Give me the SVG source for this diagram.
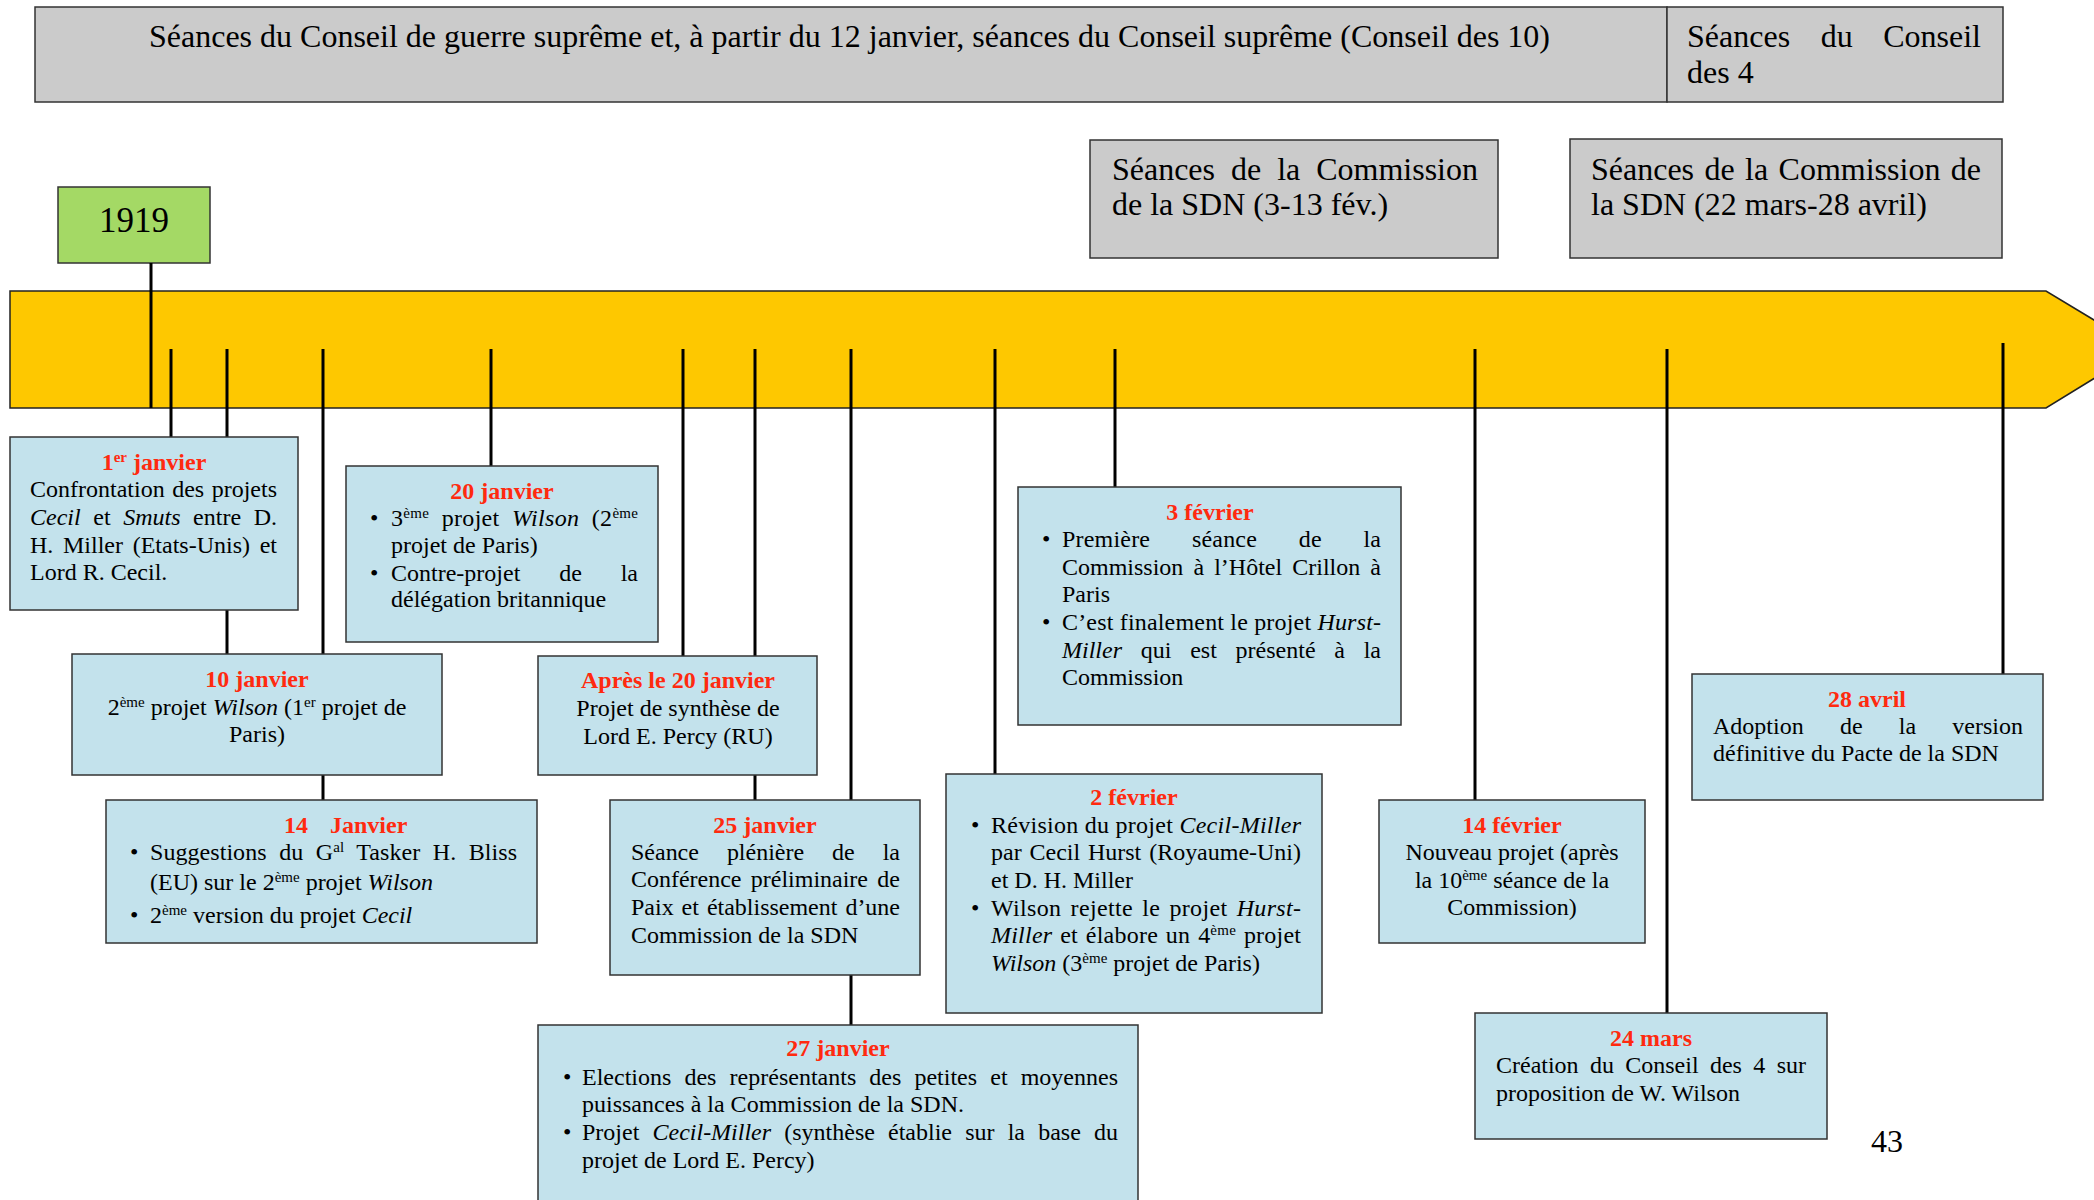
<svg xmlns="http://www.w3.org/2000/svg" width="2094" height="1200" viewBox="0 0 2094 1200">
<style>
.t{font-family:"Liberation Serif","Times New Roman",serif;font-size:24px;fill:#000}
.big{font-size:32px}
.h{font-weight:bold;fill:#ff2a0f;text-anchor:middle}
.hl{font-weight:bold;fill:#ff2a0f}
.i{font-style:italic}
.s{font-size:15px;baseline-shift:super}
.m{text-anchor:middle}
.box{fill:#c3e2ec;stroke:#333;stroke-width:1.5}
.gray{fill:#cbcbcb;stroke:#333;stroke-width:1.5}
.ln{stroke:#000;stroke-width:3;fill:none}
</style>
<rect width="2094" height="1200" fill="#fff"/>
<g id="header">
<rect class="gray" x="35" y="7" width="1632" height="95"/>
<rect class="gray" x="1667" y="7" width="336" height="95"/>
<text class="t big" x="149" y="47">Séances du Conseil de guerre suprême et, à partir du 12 janvier, séances du Conseil suprême (Conseil des 10)</text>
<text class="t big" x="1687" y="47" textLength="294" lengthAdjust="spacing" word-spacing="22.5">Séances du Conseil</text>
<text class="t big" x="1687" y="83">des 4</text>
</g>
<g id="commission1">
<rect class="gray" x="1090" y="140" width="408" height="118"/>
<text class="t big" x="1112" y="180" textLength="366" lengthAdjust="spacing" word-spacing="8">Séances de la Commission</text>
<text class="t big" x="1112" y="215">de la SDN (3-13 fév.)</text>
</g>
<g id="commission2">
<rect class="gray" x="1570" y="139" width="432" height="119"/>
<text class="t big" x="1591" y="180" textLength="390" lengthAdjust="spacing" word-spacing="2.4">Séances de la Commission de</text>
<text class="t big" x="1591" y="215">la SDN (22 mars-28 avril)</text>
</g>
<g id="year">
<rect x="58" y="187" width="152" height="76" fill="#a4d965" stroke="#333" stroke-width="1.5"/>
<text class="t m" x="134" y="232" style="font-size:35px">1919</text>
</g>
<g id="timeline">
<polygon points="10,291 2046,291 2142,349 2046,408 10,408" fill="#fec800" stroke="#222" stroke-width="1.5"/>
</g>
<g id="connectors">
<line class="ln" x1="151" y1="263" x2="151" y2="408"/>
<line class="ln" x1="171" y1="349" x2="171" y2="437"/>
<line class="ln" x1="227" y1="349" x2="227" y2="654"/>
<line class="ln" x1="323" y1="349" x2="323" y2="800"/>
<line class="ln" x1="491" y1="349" x2="491" y2="466"/>
<line class="ln" x1="683" y1="349" x2="683" y2="656"/>
<line class="ln" x1="755" y1="349" x2="755" y2="800"/>
<line class="ln" x1="851" y1="349" x2="851" y2="1025"/>
<line class="ln" x1="995" y1="349" x2="995" y2="774"/>
<line class="ln" x1="1115" y1="349" x2="1115" y2="487"/>
<line class="ln" x1="1475" y1="349" x2="1475" y2="800"/>
<line class="ln" x1="1667" y1="349" x2="1667" y2="1013"/>
<line class="ln" x1="2003" y1="343" x2="2003" y2="677"/>
</g>
<g id="n-jan01">
<rect class="box" x="10" y="437" width="288" height="173"/>
<text class="t h" x="154" y="470">1<tspan class="s">er</tspan> janvier</text>
<text class="t" x="30" y="497" textLength="247" lengthAdjust="spacing" word-spacing="1.5">Confrontation des projets</text>
<text class="t" x="30" y="525" textLength="247" lengthAdjust="spacing" word-spacing="6.6"><tspan class="i">Cecil</tspan> et <tspan class="i">Smuts</tspan> entre D.</text>
<text class="t" x="30" y="553" textLength="247" lengthAdjust="spacing" word-spacing="3.7">H. Miller (Etats-Unis) et</text>
<text class="t" x="30" y="580">Lord R. Cecil.</text>
</g>
<g id="n-jan20">
<rect class="box" x="346" y="466" width="312" height="176"/>
<text class="t h" x="502" y="499">20 janvier</text>
<text class="t" x="370" y="526">•</text>
<text class="t" x="391" y="526" textLength="247" lengthAdjust="spacing" word-spacing="6.3">3<tspan class="s">ème</tspan> projet <tspan class="i">Wilson</tspan> (2<tspan class="s">ème</tspan></text>
<text class="t" x="391" y="553">projet de Paris)</text>
<text class="t" x="370" y="581">•</text>
<text class="t" x="391" y="581" textLength="247" lengthAdjust="spacing" word-spacing="32.8">Contre-projet de la</text>
<text class="t" x="391" y="607">délégation britannique</text>
</g>
<g id="n-jan10">
<rect class="box" x="72" y="654" width="370" height="121"/>
<text class="t h" x="257" y="687">10 janvier</text>
<text class="t m" x="257" y="715">2<tspan class="s">ème</tspan> projet <tspan class="i">Wilson</tspan> (1<tspan class="s">er</tspan> projet de</text>
<text class="t m" x="257" y="742">Paris)</text>
</g>
<g id="n-jan14">
<rect class="box" x="106" y="800" width="431" height="143"/>
<text class="t hl" x="284" y="833">14</text>
<text class="t hl" x="330" y="833">Janvier</text>
<text class="t" x="130" y="860">•</text>
<text class="t" x="150" y="860" textLength="367" lengthAdjust="spacing" word-spacing="6.5">Suggestions du G<tspan class="s">al</tspan> Tasker H. Bliss</text>
<text class="t" x="150" y="890">(EU) sur le 2<tspan class="s">ème</tspan> projet <tspan class="i">Wilson</tspan></text>
<text class="t" x="130" y="923">•</text>
<text class="t" x="150" y="923">2<tspan class="s">ème</tspan> version du projet <tspan class="i">Cecil</tspan></text>
</g>
<g id="n-apres">
<rect class="box" x="538" y="656" width="279" height="119"/>
<text class="t h" x="678" y="688">Après le 20 janvier</text>
<text class="t m" x="678" y="716">Projet de synthèse de</text>
<text class="t m" x="678" y="744">Lord E. Percy (RU)</text>
</g>
<g id="n-jan25">
<rect class="box" x="610" y="800" width="310" height="175"/>
<text class="t h" x="765" y="833">25 janvier</text>
<text class="t" x="631" y="860" textLength="269" lengthAdjust="spacing" word-spacing="22">Séance plénière de la</text>
<text class="t" x="631" y="887" textLength="269" lengthAdjust="spacing" word-spacing="3.4">Conférence préliminaire de</text>
<text class="t" x="631" y="915" textLength="269" lengthAdjust="spacing" word-spacing="2">Paix et établissement d’une</text>
<text class="t" x="631" y="943">Commission de la SDN</text>
</g>
<g id="n-jan27">
<rect class="box" x="538" y="1025" width="600" height="200"/>
<text class="t h" x="838" y="1056">27 janvier</text>
<text class="t" x="563" y="1085">•</text>
<text class="t" x="582" y="1085" textLength="536" lengthAdjust="spacing" word-spacing="7.1">Elections des représentants des petites et moyennes</text>
<text class="t" x="582" y="1112">puissances à la Commission de la SDN.</text>
<text class="t" x="563" y="1140">•</text>
<text class="t" x="582" y="1140" textLength="536" lengthAdjust="spacing" word-spacing="7.2">Projet <tspan class="i">Cecil-Miller</tspan> (synthèse établie sur la base du</text>
<text class="t" x="582" y="1168">projet de Lord E. Percy)</text>
</g>
<g id="n-feb02">
<rect class="box" x="946" y="774" width="376" height="239"/>
<text class="t h" x="1134" y="805">2 février</text>
<text class="t" x="971" y="833">•</text>
<text class="t" x="991" y="833" textLength="310" lengthAdjust="spacing">Révision du projet <tspan class="i">Cecil-Miller</tspan></text>
<text class="t" x="991" y="860" textLength="310" lengthAdjust="spacing" word-spacing="1.9">par Cecil Hurst (Royaume-Uni)</text>
<text class="t" x="991" y="888">et D. H. Miller</text>
<text class="t" x="971" y="916">•</text>
<text class="t" x="991" y="916" textLength="310" lengthAdjust="spacing" word-spacing="2.9">Wilson rejette le projet <tspan class="i">Hurst-</tspan></text>
<text class="t" x="991" y="943" textLength="310" lengthAdjust="spacing" word-spacing="1.6"><tspan class="i">Miller</tspan> et élabore un 4<tspan class="s">ème</tspan> projet</text>
<text class="t" x="991" y="971"><tspan class="i">Wilson</tspan> (3<tspan class="s">ème</tspan> projet de Paris)</text>
</g>
<g id="n-feb03">
<rect class="box" x="1018" y="487" width="383" height="238"/>
<text class="t h" x="1210" y="520">3 février</text>
<text class="t" x="1042" y="547">•</text>
<text class="t" x="1062" y="547" textLength="319" lengthAdjust="spacing" word-spacing="35.5">Première séance de la</text>
<text class="t" x="1062" y="575" textLength="319" lengthAdjust="spacing" word-spacing="4.1">Commission à l’Hôtel Crillon à</text>
<text class="t" x="1062" y="602">Paris</text>
<text class="t" x="1042" y="630">•</text>
<text class="t" x="1062" y="630" textLength="319" lengthAdjust="spacing">C’est finalement le projet <tspan class="i">Hurst-</tspan></text>
<text class="t" x="1062" y="658" textLength="319" lengthAdjust="spacing" word-spacing="12.7"><tspan class="i">Miller</tspan> qui est présenté à la</text>
<text class="t" x="1062" y="685">Commission</text>
</g>
<g id="n-feb14">
<rect class="box" x="1379" y="800" width="266" height="143"/>
<text class="t h" x="1512" y="833">14 février</text>
<text class="t m" x="1512" y="860">Nouveau projet (après</text>
<text class="t m" x="1512" y="888">la 10<tspan class="s">ème</tspan> séance de la</text>
<text class="t m" x="1512" y="915">Commission)</text>
</g>
<g id="n-apr28">
<rect class="box" x="1692" y="674" width="351" height="126"/>
<text class="t h" x="1867" y="707">28 avril</text>
<text class="t" x="1713" y="734" textLength="310" lengthAdjust="spacing" word-spacing="30.2">Adoption de la version</text>
<text class="t" x="1713" y="761">définitive du Pacte de la SDN</text>
</g>
<g id="n-mar24">
<rect class="box" x="1475" y="1013" width="352" height="126"/>
<text class="t h" x="1651" y="1046">24 mars</text>
<text class="t" x="1496" y="1073" textLength="310" lengthAdjust="spacing" word-spacing="5.4">Création du Conseil des 4 sur</text>
<text class="t" x="1496" y="1101">proposition de W. Wilson</text>
</g>
<text class="t big" x="1871" y="1152">43</text>
</svg>
